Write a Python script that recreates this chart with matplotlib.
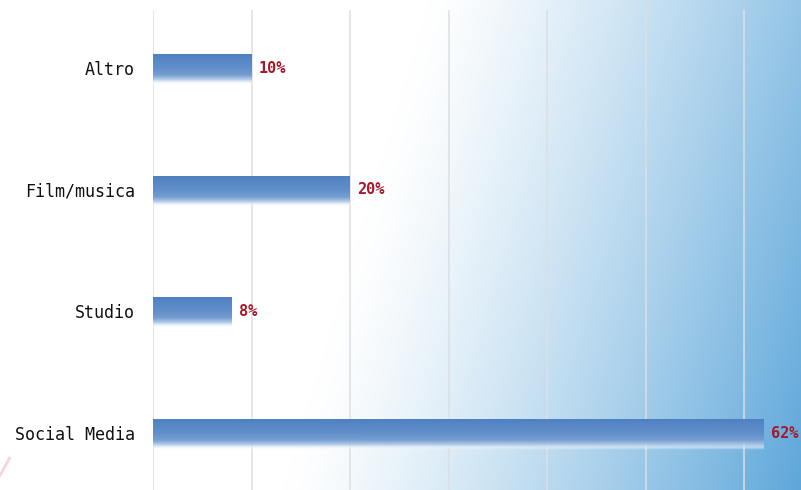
import matplotlib.pyplot as plt
import matplotlib
import numpy as np
from matplotlib.colors import to_rgb

matplotlib.rcParams['font.family'] = 'DejaVu Sans Mono'

# dati del grafico (dal basso verso l'alto)
categorie = ['Social Media', 'Studio', 'Film/musica', 'Altro']
percentuali = [62, 8, 20, 10]
etichette = ['62%', '8%', '20%', '10%']

fig = plt.figure(figsize=(8.01, 4.90), dpi=100)

# sfondo sfumato in diagonale: bianco a sinistra, azzurro a destra
bg = fig.add_axes([0, 0, 1, 1], zorder=0)
bg.set_axis_off()
W, H = 801, 490
xx, yy = np.meshgrid(np.arange(W), np.arange(H))
s = np.clip((xx + 0.30 * yy - 430) / 518.0, 0, 1)
s = s ** 1.25
bianco = np.array([1.0, 1.0, 1.0])
azzurro = np.array(to_rgb('#5ea7da'))
img = bianco[None, None, :] * (1 - s[..., None]) + azzurro[None, None, :] * s[..., None]
bg.imshow(img, extent=(0, 1, 0, 1), aspect='auto', origin='upper')
bg.set_xlim(0, 1)
bg.set_ylim(0, 1)
# piccolo segno rosa in basso a sinistra
bg.plot([0.0, 0.012], [0.03, 0.065], color='#f4b8c4', lw=2, alpha=0.6)

ax = fig.add_axes([153 / 801, 0, 648 / 801, 480 / 490], zorder=1)
ax.patch.set_alpha(0)

# linee verticali della griglia ogni 10%
for xg in range(0, 70, 10):
    ax.axvline(xg, color='#dcdfe4', lw=1.1, zorder=1)

# sfumatura verticale delle barre (dall'alto in basso)
pos = [0.0, 0.12, 0.45, 0.68, 0.82, 0.92, 1.0]
col_barra = [(0.31, 0.50, 0.75, 1.0), (0.33, 0.52, 0.77, 1.0), (0.38, 0.56, 0.79, 1.0),
             (0.46, 0.62, 0.82, 1.0), (0.66, 0.77, 0.90, 0.9), (0.90, 0.94, 0.98, 0.6),
             (1.0, 1.0, 1.0, 0.0)]
col_barra = np.array(col_barra)
t = np.linspace(0, 1, 80)
grad = np.zeros((80, 2, 4))
for c in range(4):
    grad[:, :, c] = np.interp(t, pos, col_barra[:, c])[:, None]

h = 0.25
for i, (v, lab) in enumerate(zip(percentuali, etichette)):
    ax.imshow(grad, extent=(0, v, i - h / 2 - 0.015, i + h / 2 - 0.015),
              aspect='auto', origin='upper', zorder=2, interpolation='bilinear')
    ax.annotate(lab, (v, i), xytext=(5, 0), textcoords='offset points',
                ha='left', va='center', color='#a8182c', fontsize=11,
                fontweight='bold', zorder=3)

ax.set_xlim(0, 648 / 9.85)
ax.set_ylim(-0.468, 3.477)
ax.set_yticks(range(len(categorie)))
ax.set_yticklabels(categorie, fontsize=12, color='#111111')
ax.set_xticks([])
ax.tick_params(axis='y', length=0, pad=13)
for sp in ax.spines.values():
    sp.set_visible(False)

plt.savefig('out.png', dpi=100)
